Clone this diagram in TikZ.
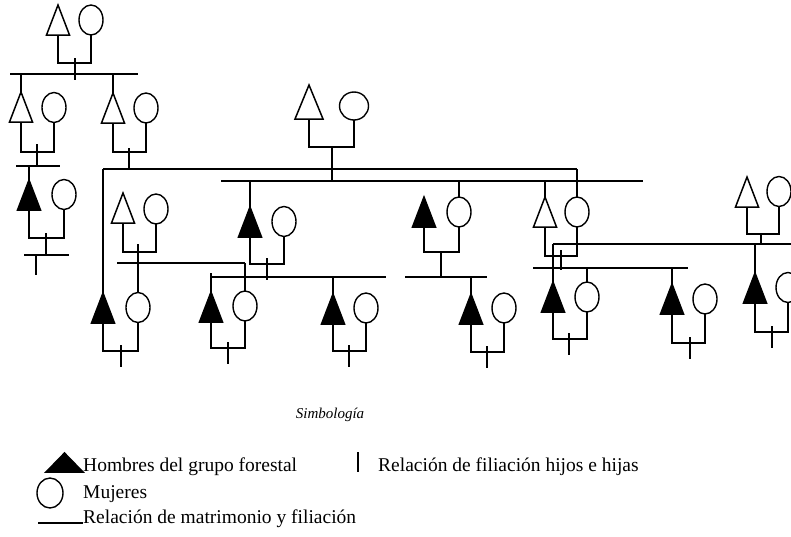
\documentclass[tikz,border=0pt]{standalone}
\usepackage{fontspec}
\setmainfont{Liberation Serif}
\usetikzlibrary{shapes.geometric,calc}

\tikzset{
  linea/.style={line width=1.5pt},
  hombre/.style={draw, line width=1.5pt, isosceles triangle, shape border rotate=90,
    isosceles triangle stretches, minimum width=23pt, minimum height=30pt,
    inner sep=0pt, outer sep=0pt, anchor=south},
  forestal/.style={hombre, fill=black},
  mujer/.style={draw, line width=1.4pt, ellipse, minimum width=24pt, minimum height=30pt,
    inner sep=0pt, outer sep=0pt},
  texto/.style={inner sep=0pt, anchor=base west, font=\fontsize{19.5}{22}\selectfont},
}

% pareja: nombre, estilo, x hombre, base hombre, x mujer, y mujer, x union, y union
\newcommand{\pareja}[8]{%
  \node[#2] (#1h) at (#3,#4) {};
  \node[mujer] (#1m) at (#5,#6) {};
  \coordinate (#1u) at (#7,#8);
  \draw[linea] (#1h.south) |- (#1u) -| (#1m.south);
}

\begin{document}
\begin{tikzpicture}[x=1pt, y=-1pt]
    \useasboundingbox (0,0) rectangle (791,536);
    \clip (0,0) rectangle (791,536);

    % Primera generacion
    \pareja{A}{hombre}{58}{35}{91}{20}{75}{63}
    \coordinate (lA1) at (10,74);
    \coordinate (lA2) at (138,74);
    \draw[linea] (lA1) -- (lA2);
    \draw[linea] ([yshift=5pt]Au) -- ($(Au |- lA1)+(0,6)$);

    \pareja{B}{hombre}{21}{122}{54}{107.5}{37}{152}
    \pareja{C}{hombre}{113}{123}{146}{108}{129}{152}
    \draw[linea] (Bh.north) -- (Bh.north |- lA1);
    \draw[linea] (Ch.north) -- (Ch.north |- lA1);

    % Rama izquierda
    \coordinate (lB1) at (16,166);
    \coordinate (lB2) at (60,166);
    \draw[linea] (lB1) -- (lB2);
    \draw[linea] ([yshift=8pt]Bu) -- (Bu |- lB1);
    \pareja{D}{forestal}{29}{210}{64}{194.5}{46}{238}
    \draw[linea] (Dh.north) -- (Dh.north |- lB1);
    \coordinate (lD1) at (24,255);
    \coordinate (lD2) at (69,255);
    \coordinate (dD) at (36,275);
    \draw[linea] (lD1) -- (lD2);
    \draw[linea] ([yshift=5pt]Du) -- (Du |- lD1);
    \draw[linea] (dD |- lD1) -- (dD);

    % Pareja central
    \node[hombre, minimum width=28pt, minimum height=34pt] (Fh) at (309,119) {};
    \node[mujer, minimum width=29pt, minimum height=28pt] (Fm) at (354,106) {};
    \coordinate (Fu) at (332,147);
    \draw[linea] (Fh.south) |- (Fu) -| (Fm.south);
    \coordinate (lF1) at (221,181);
    \coordinate (lF2) at (643,181);
    \draw[linea] (lF1) -- (lF2);
    \draw[linea] (Fu) -- (Fu |- lF1);

    % Matrimonio entre ramas
    \coordinate (lC1) at (103,169);
    \coordinate (lC2) at (577,169);
    \draw[linea] (lC1) -- (lC2);
    \draw[linea] ([yshift=4pt]Cu) -- (Cu |- lC1);

    % Segunda generacion
    \pareja{E}{hombre}{123}{223}{156}{209}{138}{252}
    \pareja{H}{forestal}{250}{237}{284}{221.5}{267}{264}
    \pareja{K}{forestal}{424}{227}{459}{212}{441}{252}
    \pareja{L}{hombre}{545}{227}{577}{212}{561}{256}
    \pareja{I}{hombre}{747}{207}{779}{191.5}{761}{234}
    \draw[linea] (Hh.north) -- (Hh.north |- lF1);
    \draw[linea] (Km.north) -- (Km.north |- lF1);
    \draw[linea] (Lh.north) -- (Lh.north |- lF1);
    \draw[linea] (Lm.north) -- (Lm.north |- lC2);

    \coordinate (lE1) at (117,263);
    \coordinate (lE2) at (245,263);
    \draw[linea] (lE1) -- (lE2);
    \draw[linea] ([yshift=8pt]Eu) -- (Eu |- lE1);

    \coordinate (lH1) at (210,277);
    \coordinate (lH2) at (386,277);
    \draw[linea] (lH1) -- (lH2);
    \draw[linea] ([yshift=6pt]Hu) -- ($(Hu |- lH1)+(0,3)$);

    \coordinate (lK1) at (405,277);
    \coordinate (lK2) at (487,277);
    \draw[linea] (lK1) -- (lK2);
    \draw[linea] (Ku) -- (Ku |- lK1);

    \coordinate (lL1) at (533,268);
    \coordinate (lL2) at (688,268);
    \draw[linea] (lL1) -- (lL2);
    \draw[linea] ([yshift=6pt]Lu) -- ($(Lu |- lL1)+(0,2)$);

    \coordinate (lI1) at (553,244);
    \coordinate (lI2) at (795,244);
    \draw[linea] (lI1) -- (lI2);
    \draw[linea] (Iu) -- (Iu |- lI1);

    % Tercera generacion
    \pareja{P}{forestal}{103}{323}{138}{307.5}{121}{351}
    \pareja{Q}{forestal}{211}{322}{245}{306}{228}{348}
    \pareja{R}{forestal}{333}{324}{366}{308}{349}{351}
    \pareja{S}{forestal}{471}{324}{504}{308}{487}{352}
    \pareja{T}{forestal}{553}{312}{587}{297}{569}{339}
    \pareja{U}{forestal}{672}{314}{705}{299}{690}{343}
    \pareja{J}{forestal}{755}{303}{788}{287.5}{772}{332}
    \draw[linea] (Ph.north) -- (Ph.north |- lC1);
    \draw[linea] (Pm.north) -- (Pm.north |- lE1);
    \draw[linea] (Qm.north) -- (Qm.north |- lE1);
    \draw[linea] (Qh.north) -- ($(Qh.north |- lH1)+(0,-4)$);
    \draw[linea] (Rh.north) -- (Rh.north |- lH1);
    \draw[linea] (Sh.north) -- (Sh.north |- lK1);
    \draw[linea] (Th.north) -- (Th.north |- lI1);
    \draw[linea] (Tm.north) -- (Tm.north |- lL1);
    \draw[linea] (Uh.north) -- (Uh.north |- lL1);
    \draw[linea] (Jh.north) -- (Jh.north |- lI1);
    \foreach \p in {P,Q,R,S,T,U,J}
      \draw[linea] ([yshift=6pt]\p u) -- ([yshift=-16pt]\p u);

    % Simbologia
    \node[font=\itshape\fontsize{15}{18}\selectfont] (titulo) at (330,415) {Simbología};
    \node[forestal, minimum width=37pt, minimum height=19pt] (simH) at (64.5,472) {};
    \node[texto] (txtH) at (83,471) {Hombres del grupo forestal};
    \coordinate (barra1) at (358,452);
    \coordinate (barra2) at (358,472);
    \draw[linea] (barra1) -- (barra2);
    \node[texto] (txtF) at (378,471) {Relación de filiación hijos e hijas};
    \node[mujer, minimum width=26pt, minimum height=30pt] (simM) at (50,493) {};
    \node[texto] (txtM) at (83,498) {Mujeres};
    \coordinate (raya) at (38,523);
    \node[texto] (txtR) at (83,523) {Relación de matrimonio y filiación};
    \draw[linea] (raya) -- (txtR.base west);
\end{tikzpicture}
\end{document}
